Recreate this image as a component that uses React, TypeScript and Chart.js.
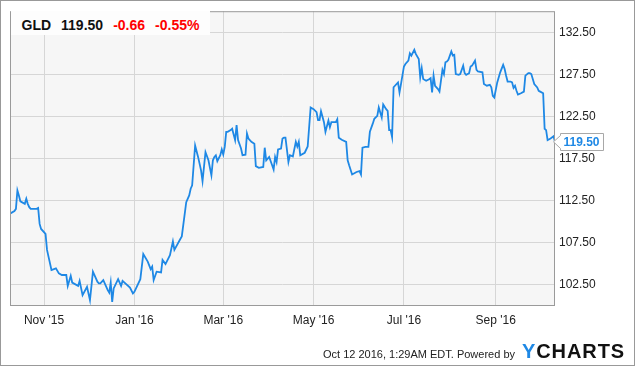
import React, { useEffect, useRef } from "react";
import { Chart, registerables } from "chart.js";

Chart.register(...registerables);

const ticker = "GLD";
const changeText = "-0.66";
const changePctText = "-0.55%";
const footerStamp = "Oct 12 2016, 1:29AM EDT.";
const footerPowered = "Powered by";

const dates = [
  "2015-10-09","2015-10-12","2015-10-13","2015-10-14","2015-10-15","2015-10-16","2015-10-19","2015-10-20","2015-10-21","2015-10-22",
  "2015-10-23","2015-10-27","2015-10-28","2015-10-29","2015-10-30","2015-11-02","2015-11-03","2015-11-04","2015-11-06","2015-11-09",
  "2015-11-11","2015-11-13","2015-11-16","2015-11-17","2015-11-19","2015-11-20","2015-11-24","2015-11-25","2015-11-27","2015-11-30",
  "2015-12-02","2015-12-04","2015-12-07","2015-12-08","2015-12-09","2015-12-11","2015-12-14","2015-12-15","2015-12-16","2015-12-17",
  "2015-12-18","2015-12-21","2015-12-23","2015-12-24","2015-12-29","2015-12-31","2016-01-01","2016-01-05","2016-01-07","2016-01-10",
  "2016-01-12","2016-01-13","2016-01-14","2016-01-16","2016-01-19","2016-01-20","2016-01-22","2016-01-25","2016-01-27","2016-01-28",
  "2016-02-01","2016-02-02","2016-02-05","2016-02-07","2016-02-08","2016-02-09","2016-02-11","2016-02-13","2016-02-15","2016-02-16",
  "2016-02-18","2016-02-20","2016-02-22","2016-02-23","2016-02-24","2016-02-25","2016-02-26","2016-02-28","2016-02-29","2016-03-01",
  "2016-03-02","2016-03-03","2016-03-04","2016-03-06","2016-03-07","2016-03-09","2016-03-10","2016-03-11","2016-03-13","2016-03-14",
  "2016-03-16","2016-03-17","2016-03-18","2016-03-20","2016-03-22","2016-03-23","2016-03-25","2016-03-28","2016-03-29","2016-03-30",
  "2016-04-01","2016-04-03","2016-04-04","2016-04-05","2016-04-06","2016-04-07","2016-04-09","2016-04-10","2016-04-11","2016-04-12",
  "2016-04-14","2016-04-15","2016-04-17","2016-04-19","2016-04-20","2016-04-21","2016-04-22","2016-04-25","2016-04-27","2016-04-29",
  "2016-05-01","2016-05-03","2016-05-04","2016-05-05","2016-05-06","2016-05-08","2016-05-09","2016-05-11","2016-05-12","2016-05-13",
  "2016-05-15","2016-05-16","2016-05-17","2016-05-18","2016-05-20","2016-05-23","2016-05-24","2016-05-25","2016-05-27","2016-05-30",
  "2016-06-01","2016-06-02","2016-06-03","2016-06-05","2016-06-07","2016-06-08","2016-06-10","2016-06-11","2016-06-13","2016-06-14",
  "2016-06-16","2016-06-17","2016-06-19","2016-06-20","2016-06-21","2016-06-22","2016-06-23","2016-06-24","2016-06-27","2016-06-28",
  "2016-06-29","2016-07-01","2016-07-02","2016-07-04","2016-07-05","2016-07-06","2016-07-08","2016-07-09","2016-07-11","2016-07-12",
  "2016-07-13","2016-07-14","2016-07-16","2016-07-18","2016-07-19","2016-07-20","2016-07-21","2016-07-22","2016-07-24","2016-07-25",
  "2016-07-26","2016-07-27","2016-07-28","2016-07-29","2016-07-30","2016-07-31","2016-08-02","2016-08-03","2016-08-04","2016-08-05",
  "2016-08-07","2016-08-08","2016-08-10","2016-08-11","2016-08-12","2016-08-14","2016-08-15","2016-08-16","2016-08-18","2016-08-19",
  "2016-08-20","2016-08-23","2016-08-24","2016-08-26","2016-08-28","2016-08-29","2016-08-30","2016-08-31","2016-09-02","2016-09-04",
  "2016-09-06","2016-09-07","2016-09-08","2016-09-09","2016-09-11","2016-09-12","2016-09-13","2016-09-14","2016-09-15","2016-09-16",
  "2016-09-18","2016-09-20","2016-09-21","2016-09-23","2016-09-24","2016-09-25","2016-09-27","2016-09-29","2016-09-30","2016-10-01",
  "2016-10-03","2016-10-04","2016-10-05","2016-10-06","2016-10-08","2016-10-10","2016-10-11",
];

const prices = [
  110.93,111.24,111.5,113.7,113.1,112.4,112.1,112.7,112.1,111.7,
  111.5,111.5,111.6,109.7,109.1,108.5,106.6,105.8,104.2,104.4,
  103.8,103.6,103.6,102.3,103.5,102.7,102.3,102.9,101.2,102.2,
  100.6,104.0,102.8,102.6,102.6,103.0,101.8,101.5,102.7,100.4,
  102.0,103.1,102.3,102.9,102.1,101.4,101.6,103.1,106.1,105.2,
  104.3,104.6,103.0,104.0,103.9,105.4,104.9,105.96,107.6,106.6,
  107.9,108.2,112.3,113.1,113.9,114.3,119.07,117.7,116.1,114.8,
  118.27,117.3,115.5,117.3,117.7,117.9,117.2,117.9,118.6,118.0,
  118.9,120.7,120.7,120.9,121.06,119.7,121.5,119.7,118.7,117.9,
  117.96,120.5,119.9,119.5,119.27,116.6,116.4,116.5,118.8,117.3,
  117.7,116.7,116.2,117.7,117.1,118.6,118.7,119.9,120.0,120.0,
  117.1,117.9,117.76,119.5,118.95,119.5,117.9,118.2,118.95,123.6,
  123.4,123.04,122.1,122.1,123.16,121.85,120.7,122.05,121.25,121.85,
  121.85,121.85,122.2,120.0,119.75,119.5,117.3,116.7,115.6,115.9,
  116.0,115.6,118.8,118.9,118.9,120.7,121.7,122.25,122.6,123.6,
  122.4,123.96,123.4,123.2,120.9,120.9,120.06,126.02,126.6,125.4,
  126.4,128.5,128.8,129.2,130.07,129.8,130.5,130.0,129.4,127.2,
  128.3,127.0,126.8,126.97,127.1,125.4,127.4,126.2,125.8,125.5,
  126.8,128.1,127.6,129.0,129.08,129.3,130.3,129.8,129.88,127.6,
  127.5,127.6,128.6,127.7,127.5,127.7,128.5,128.6,129.2,128.1,
  127.9,127.8,126.4,126.2,126.3,126.0,125.0,124.8,126.6,127.8,
  128.7,128.2,127.4,126.7,126.7,126.6,125.95,126.2,125.6,125.15,
  125.3,125.5,127.4,127.7,127.7,127.6,126.4,126.0,125.6,125.5,
  125.3,121.06,120.9,119.7,119.9,120.16,119.5,
];

const yTicks = [102.5, 107.5, 112.5, 117.5, 122.5, 127.5, 132.5];
const xTickDates = ["2015-11-01", "2016-01-01", "2016-03-01", "2016-05-01", "2016-07-01", "2016-09-01"];
const xTickLabels = ["Nov '15", "Jan '16", "Mar '16", "May '16", "Jul '16", "Sep '16"];
const yMin = 99.9;
const yMax = 135.1;

const FONT = "'Liberation Sans', Arial, Helvetica, sans-serif";
const BLUE = "#1e88e5";

function dayNum(s: string): number {
  const [y, m, d] = s.split("-").map(Number);
  return (Date.UTC(y, m - 1, d) - Date.UTC(2015, 10, 1)) / 86400000;
}

const lastPrice = prices[prices.length - 1];

const framePlugin = {
  id: "frameAndLabel",
  beforeDraw(chart: any) {
    const { ctx, chartArea: a } = chart;
    ctx.save();
    ctx.fillStyle = "#f6f6f6";
    ctx.fillRect(a.left, a.top, a.right - a.left, a.bottom - a.top);
    ctx.restore();
  },
  afterDraw(chart: any) {
    const { ctx, chartArea: a } = chart;
    ctx.save();
    ctx.strokeStyle = "#9a9a9a";
    ctx.lineWidth = 1;
    ctx.strokeRect(a.left + 0.5, a.top + 0.5, a.right - a.left - 1, a.bottom - a.top - 1);

    const y = chart.scales.y.getPixelForValue(lastPrice);
    const text = lastPrice.toFixed(2);
    ctx.font = `bold 12px ${FONT}`;
    const tw = ctx.measureText(text).width;
    const bx = Math.round(a.right) + 5.5;
    const bh = 17;
    const by = Math.round(y - bh / 2) + 0.5;
    const bw = Math.round(tw + 7);
    ctx.beginPath();
    ctx.moveTo(a.right - 1.5, y);
    ctx.lineTo(bx, by + 2);
    ctx.lineTo(bx, by);
    ctx.lineTo(bx + bw, by);
    ctx.lineTo(bx + bw, by + bh);
    ctx.lineTo(bx, by + bh);
    ctx.lineTo(bx, by + bh - 2);
    ctx.closePath();
    ctx.fillStyle = "#ffffff";
    ctx.fill();
    ctx.strokeStyle = "#a8a8a8";
    ctx.stroke();
    ctx.fillStyle = BLUE;
    ctx.textBaseline = "middle";
    ctx.textAlign = "left";
    ctx.fillText(text, bx + 3, by + bh / 2 + 0.5);
    ctx.restore();
  },
};

export default function App() {
  const canvasRef = useRef<HTMLCanvasElement | null>(null);

  useEffect(() => {
    if (!canvasRef.current) return;
    const points = dates.map((d, i) => ({ x: dayNum(d), y: prices[i] }));
    const chart = new Chart(canvasRef.current, {
      type: "line",
      data: {
        datasets: [
          {
            data: points,
            borderColor: BLUE,
            borderWidth: 1.8,
            pointRadius: 0,
            tension: 0,
            fill: false,
          },
        ],
      },
      options: {
        animation: false,
        responsive: false,
        maintainAspectRatio: false,
        layout: { padding: { left: 10, top: 10, right: 0, bottom: 0 } },
        plugins: {
          legend: { display: false },
          tooltip: { enabled: false },
          title: { display: false },
        },
        scales: {
          x: {
            type: "linear",
            min: dayNum(dates[0]),
            max: dayNum(dates[dates.length - 1]),
            afterBuildTicks: (s: any) => {
              s.ticks = xTickDates.map((d) => ({ value: dayNum(d) }));
            },
            afterFit: (s: any) => {
              s.height = 60;
            },
            grid: { color: "#d6d6d6", lineWidth: 1, drawTicks: false },
            border: { display: false },
            ticks: {
              callback: (_v: any, i: number) => xTickLabels[i],
              font: { family: FONT, size: 12 },
              color: "#222",
              padding: 7,
              maxRotation: 0,
              autoSkip: false,
            },
          },
          y: {
            type: "linear",
            position: "right",
            min: yMin,
            max: yMax,
            afterBuildTicks: (s: any) => {
              s.ticks = yTicks.map((v) => ({ value: v }));
            },
            afterFit: (s: any) => {
              s.width = 80;
            },
            grid: { color: "#d6d6d6", lineWidth: 1, drawTicks: false },
            border: { display: false },
            ticks: {
              callback: (v: any) => Number(v).toFixed(2),
              font: { family: FONT, size: 12 },
              color: "#222",
              padding: 4,
              autoSkip: false,
            },
          },
        },
      },
      plugins: [framePlugin],
    } as any);
    return () => chart.destroy();
  }, []);

  return (
    <div
      style={{
        position: "absolute",
        left: 0,
        top: 0,
        width: 635,
        height: 366,
        background: "#fff",
        overflow: "hidden",
        fontFamily: FONT,
      }}
    >
      <canvas
        ref={canvasRef}
        width={635}
        height={366}
        style={{ position: "absolute", left: 0, top: 0, width: 635, height: 366 }}
      />
      <div
        style={{
          position: "absolute",
          left: 11,
          top: 11,
          width: 199,
          height: 24,
          background: "#fdfdfd",
        }}
      />
      <div
        style={{
          position: "absolute",
          left: 21.5,
          top: 17.5,
          display: "flex",
          gap: 10,
          fontSize: 14,
          lineHeight: "14px",
          fontWeight: "bold",
          whiteSpace: "nowrap",
        }}
      >
        <span style={{ color: "#111" }}>{ticker}</span>
        <span style={{ color: "#111" }}>{lastPrice.toFixed(2)}</span>
        <span style={{ color: "#f00" }}>{changeText}</span>
        <span style={{ color: "#f00" }}>{changePctText}</span>
      </div>
      <div
        style={{
          position: "absolute",
          right: 10,
          top: 341,
          display: "flex",
          alignItems: "baseline",
          whiteSpace: "pre",
        }}
      >
        <span style={{ fontSize: 11, lineHeight: "20px", color: "#222" }}>
          {footerStamp + " " + footerPowered}
        </span>
        <span
          style={{
            fontSize: 20,
            lineHeight: "20px",
            fontWeight: "bold",
            letterSpacing: 0.9,
            marginLeft: 7,
          }}
        >
          <span style={{ color: BLUE }}>Y</span>
          <span style={{ color: "#111" }}>CHARTS</span>
        </span>
      </div>
      <div
        style={{
          position: "absolute",
          left: 0,
          top: 0,
          width: 635,
          height: 366,
          boxSizing: "border-box",
          border: "1px solid #999",
          pointerEvents: "none",
        }}
      />
    </div>
  );
}
